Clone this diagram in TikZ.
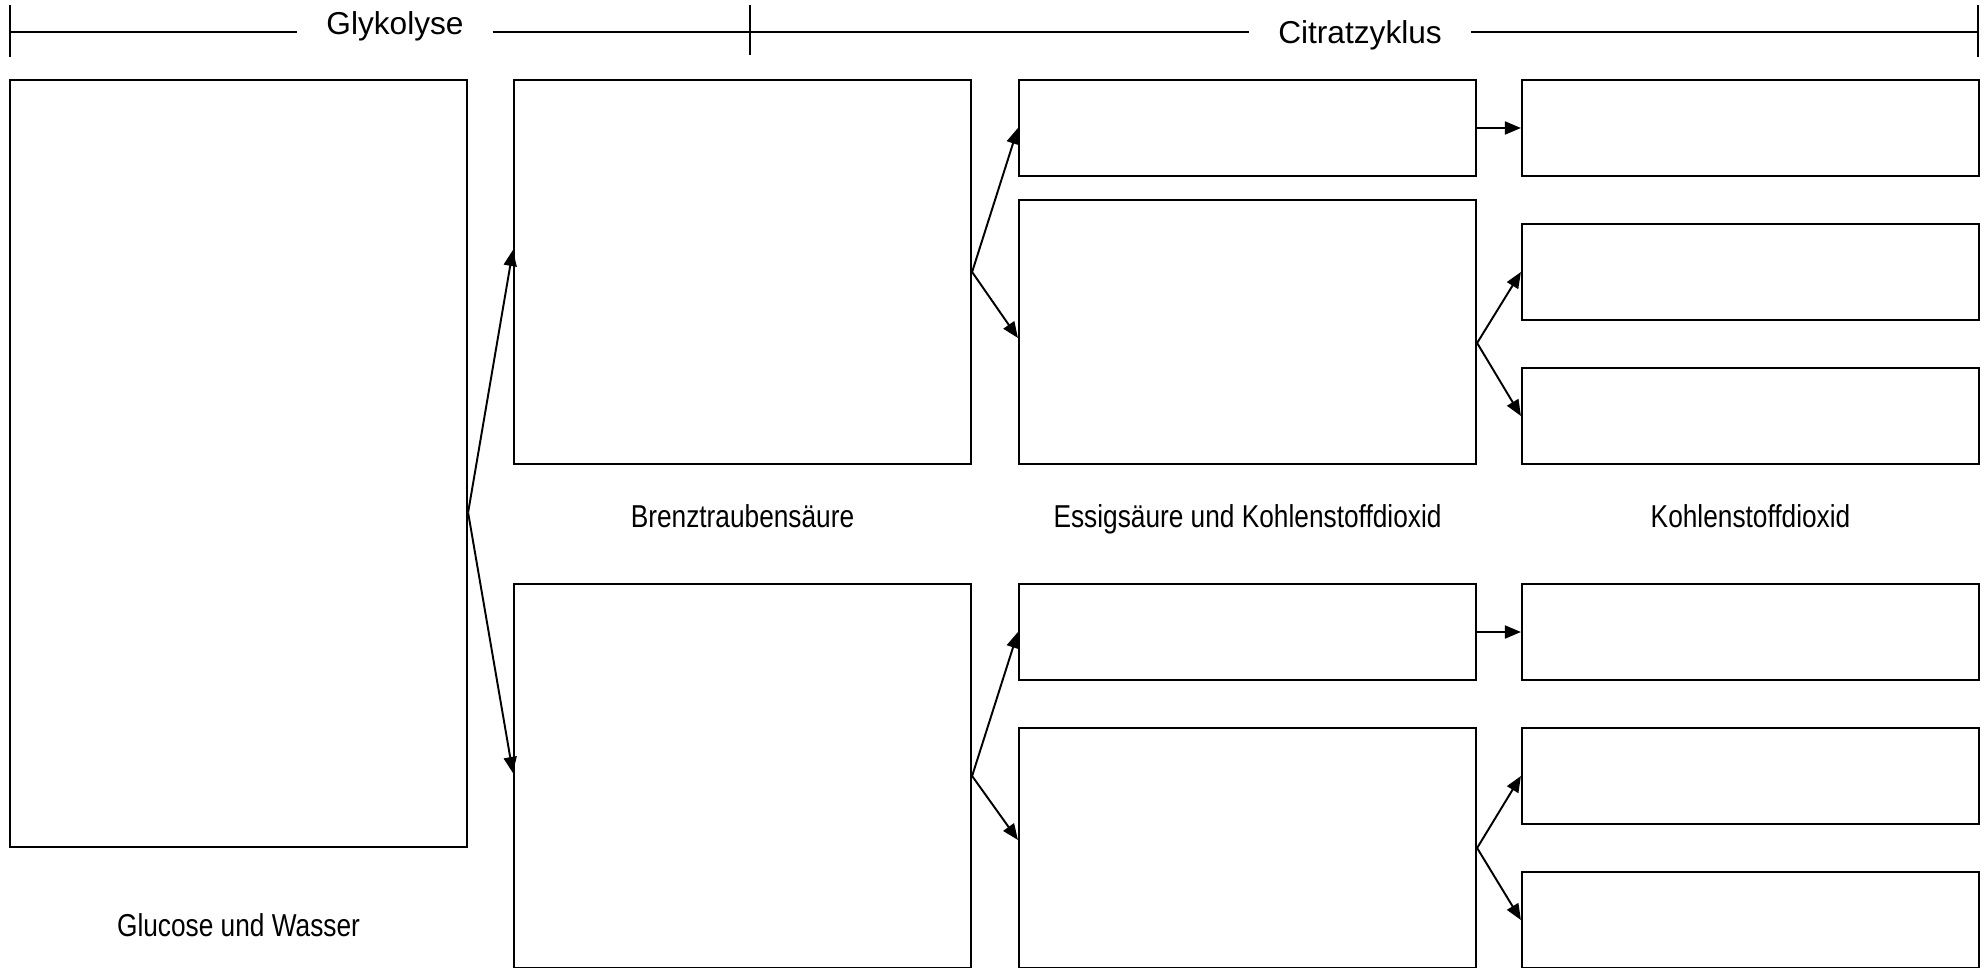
\documentclass[tikz,border=0pt]{standalone}
\usepackage{fontspec}
\setmainfont{Liberation Sans}
\newfontfamily\narrowsans[FakeStretch=0.83]{Liberation Sans}
\usetikzlibrary{arrows.meta}

\begin{document}
\begin{tikzpicture}[
  x=0.01cm, y=-0.01cm,
  box/.style={draw,minimum width=4.57cm,inner sep=0pt},
  head/.style={font=\fontsize{9}{11}\selectfont,inner xsep=0.28cm,anchor=base},
  lab/.style={font=\narrowsans\fontsize{9}{11}\selectfont,anchor=base},
  line width=0.55pt, ->, >={Triangle[length=0.16cm,width=0.13cm]}
]
  \useasboundingbox (0,0) rectangle (1986,967);
  \clip (0,0) rectangle (1986,967);

  \coordinate (tl) at (10,32);
  \coordinate (tm) at (750,32);
  \coordinate (tr) at (1978,32);
  \node[head] (glyk) at (395,35) {Glykolyse};
  \node[head] (citr) at (1360,44) {Citratzyklus};
  \draw[-] (tl) -- (tl -| glyk.west) (tm -| glyk.east) -- (tm) -- (tm -| citr.west)
    (tr -| citr.east) -- (tr);
  \draw[-] ([yshift=0.27cm]tl) -- ([yshift=-0.25cm]tl)
    ([yshift=0.27cm]tm) -- ([yshift=-0.23cm]tm)
    ([yshift=0.27cm]tr) -- ([yshift=-0.25cm]tr);

  \node[box,minimum height=7.67cm] (A)  at (238.5,463.5) {};
  \node[box,minimum height=3.84cm] (B1) at (742.5,272) {};
  \node[box,minimum height=3.84cm] (B2) at (742.5,776) {};
  \node[box,minimum height=0.96cm] (C1) at (1247.5,128) {};
  \node[box,minimum height=2.64cm] (C2) at (1247.5,332) {};
  \node[box,minimum height=0.96cm] (C3) at (1247.5,632) {};
  \node[box,minimum height=2.40cm] (C4) at (1247.5,848) {};
  \node[box,minimum height=0.96cm] (D1) at (1750.5,128) {};
  \node[box,minimum height=0.96cm] (D2) at (1750.5,272) {};
  \node[box,minimum height=0.96cm] (D3) at (1750.5,416) {};
  \node[box,minimum height=0.96cm] (D4) at (1750.5,632) {};
  \node[box,minimum height=0.96cm] (D5) at (1750.5,776) {};
  \node[box,minimum height=0.96cm] (D6) at (1750.5,920) {};

  \node[lab] (glucose) at (238.5,936) {Glucose und Wasser};
  \node[lab] (brenz)   at (742.5,527) {Brenztraubensäure};
  \node[lab] (essig)   at (1247.5,527) {Essigsäure und Kohlenstoffdioxid};
  \node[lab] (kohlen)  at (1750.5,527) {Kohlenstoffdioxid};

  \draw ([yshift=-0.49cm]A.east) -- ([yshift=0.22cm]B1.west);
  \draw ([yshift=-0.49cm]A.east) -- ([yshift=0.03cm]B2.west);
  \draw (B1.east) -- (C1.west);
  \draw (B1.east) -- ([yshift=-0.06cm]C2.west);
  \draw (C1.east) -- (D1.west);
  \draw ([yshift=-0.11cm]C2.east) -- (D2.west);
  \draw ([yshift=-0.11cm]C2.east) -- (D3.west);
  \draw (B2.east) -- (C3.west);
  \draw (B2.east) -- ([yshift=0.08cm]C4.west);
  \draw (C3.east) -- (D4.west);
  \draw (C4.east) -- (D5.west);
  \draw (C4.east) -- (D6.west);
\end{tikzpicture}
\end{document}
